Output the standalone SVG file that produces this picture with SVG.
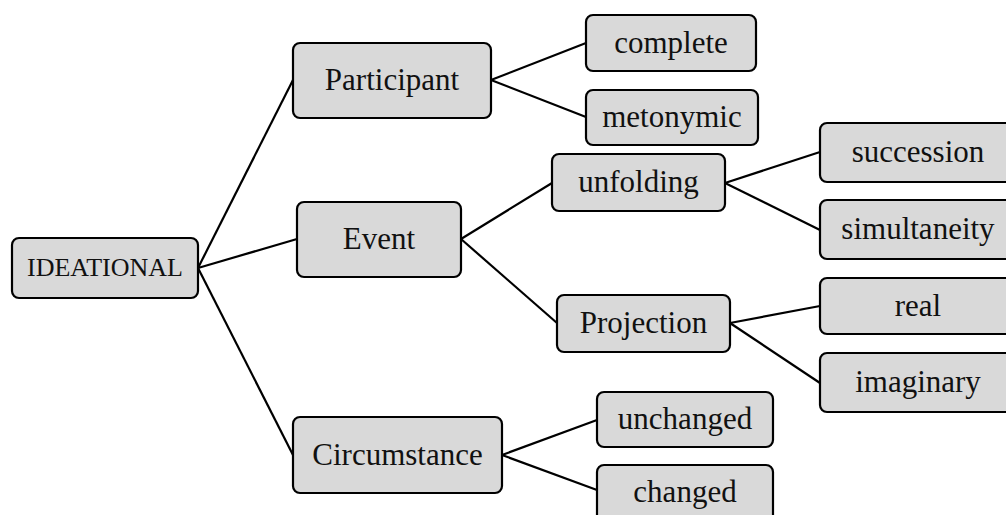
<svg xmlns="http://www.w3.org/2000/svg" width="1006" height="515" viewBox="0 0 1006 515">
<style>
.n rect{fill:#d9d9d9;stroke:#000;stroke-width:2.2}
.n text{font-family:"Liberation Serif","Times New Roman",serif;font-size:31px;fill:#111;text-anchor:middle}
#conn line{stroke:#000;stroke-width:2.2}
</style>
<rect width="1006" height="515" fill="#fff"/>
<g id="conn">
<line x1="198" y1="268" x2="293" y2="80"/>
<line x1="198" y1="268" x2="297" y2="239"/>
<line x1="198" y1="268" x2="293" y2="455"/>
<line x1="491" y1="80" x2="586" y2="43"/>
<line x1="491" y1="80" x2="586" y2="117"/>
<line x1="461" y1="239" x2="552" y2="183"/>
<line x1="461" y1="239" x2="557" y2="323"/>
<line x1="725" y1="183" x2="820" y2="152"/>
<line x1="725" y1="183" x2="820" y2="230"/>
<line x1="730" y1="323" x2="820" y2="306"/>
<line x1="730" y1="323" x2="820" y2="383"/>
<line x1="502" y1="455" x2="597" y2="420"/>
<line x1="502" y1="455" x2="597" y2="490"/>
</g>
<g id="ideational" class="n"><rect x="12" y="238" width="186" height="60" rx="7"/><text x="105" y="276" style="font-size:26px">IDEATIONAL</text></g>
<g id="participant" class="n"><rect x="293" y="43" width="198" height="75" rx="7"/><text x="392" y="90">Participant</text></g>
<g id="complete" class="n"><rect x="586" y="15" width="170" height="56" rx="7"/><text x="671" y="53">complete</text></g>
<g id="metonymic" class="n"><rect x="586" y="90" width="172" height="55" rx="7"/><text x="672" y="127">metonymic</text></g>
<g id="event" class="n"><rect x="297" y="202" width="164" height="75" rx="7"/><text x="379" y="249">Event</text></g>
<g id="unfolding" class="n"><rect x="552" y="154" width="173" height="57" rx="7"/><text x="638.5" y="192">unfolding</text></g>
<g id="projection" class="n"><rect x="557" y="295" width="173" height="57" rx="7"/><text x="643.5" y="333">Projection</text></g>
<g id="succession" class="n"><rect x="820" y="123" width="196" height="59" rx="7"/><text x="918" y="162">succession</text></g>
<g id="simultaneity" class="n"><rect x="820" y="200" width="196" height="59" rx="7"/><text x="918" y="239">simultaneity</text></g>
<g id="real" class="n"><rect x="820" y="278" width="196" height="56" rx="7"/><text x="918" y="316">real</text></g>
<g id="imaginary" class="n"><rect x="820" y="353" width="196" height="59" rx="7"/><text x="918" y="392">imaginary</text></g>
<g id="circumstance" class="n"><rect x="293" y="417" width="209" height="76" rx="7"/><text x="397.5" y="465">Circumstance</text></g>
<g id="unchanged" class="n"><rect x="597" y="392" width="176" height="55" rx="7"/><text x="685" y="429">unchanged</text></g>
<g id="changed" class="n"><rect x="597" y="465" width="176" height="60" rx="7"/><text x="685" y="502">changed</text></g>
</svg>
